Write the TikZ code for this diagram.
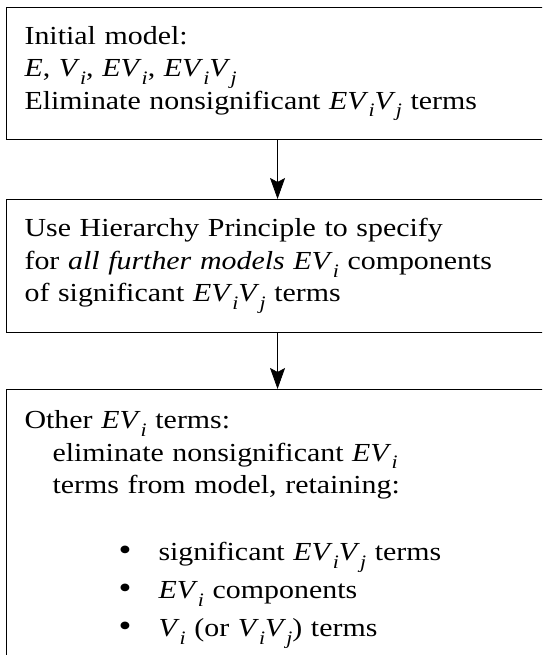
\documentclass[tikz,border=0pt]{standalone}
\usepackage{fontspec}
\setmainfont{Liberation Serif}[FakeStretch=1.15]
\usetikzlibrary{positioning,arrows.meta}

% lowered italic index, as in V_i
\newcommand{\ix}[1]{\raisebox{-0.3em}{\fontsize{19}{19}\selectfont\itshape #1}}
\newcommand{\EVi}{\textit{EV}\ix{i}}
\newcommand{\EViVj}{\textit{EV}\ix{i}\textit{V}\ix{j}}
\newcommand{\itemline}[1]{\hspace*{94pt}\makebox[40pt][l]{\fontsize{32}{32}\selectfont\textbullet}#1}

\begin{document}
\begin{tikzpicture}[x=1pt,y=1pt,>={Stealth[length=21pt,width=15pt,inset=4pt]},
  box/.style={draw,line width=1.1pt,anchor=north west,minimum width=542pt,
    inner xsep=18pt,inner ysep=0pt,text width=506pt,align=left,
    font=\fontsize{26}{32.5}\selectfont},
  flow/.style={->,line width=0.8pt}]
  \useasboundingbox (0,0) rectangle (542,655);
  \clip (0,0) rectangle (542,655);
  \node[box,minimum height=132pt] (init) at (6,648) {Initial model:\\
    \textit{E}, \textit{V}\ix{i}, \EVi, \EViVj\\
    Eliminate nonsignificant \EViVj{} terms};
  \node[box,minimum height=133pt] (hier) at (6,456) {Use Hierarchy Principle to specify\\
    for \textit{all further models} \EVi{} components\\
    of significant \EViVj{} terms};
  \node[box,minimum height=280pt] (other) at (6,266) {Other \EVi{} terms:\\
    \hspace*{28pt}eliminate nonsignificant \EVi\\
    \hspace*{28pt}terms from model, retaining:\\[34.5pt]
    \itemline{significant \EViVj{} terms}\\[5.5pt]
    \itemline{\EVi{} components}\\[5.5pt]
    \itemline{\textit{V}\ix{i} (or \textit{V}\ix{i}\textit{V}\ix{j}) terms}\\[14pt]};
  \draw[flow] (init) -- (hier);
  \draw[flow] (hier) -- (other);
\end{tikzpicture}
\end{document}
